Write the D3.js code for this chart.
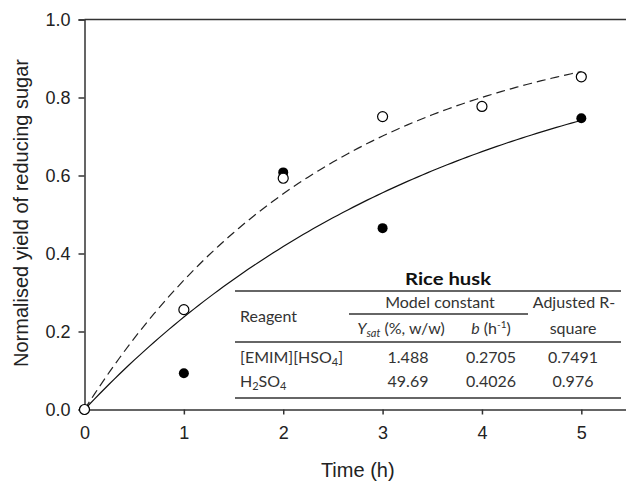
<!DOCTYPE html>
<html>
<head>
<meta charset="utf-8">
<script src="https://cdn.jsdelivr.net/npm/d3@7"></script>
<style>
  body { margin: 0; background: #fff; }
  .axis text { font-family: "Liberation Sans", Arial, sans-serif; font-size: 18px; fill: #222; }
  .axis path, .axis line { stroke: #333; stroke-width: 1.5; }
  .tbl { font-family: Lato, "Open Sans", sans-serif; font-size: 16px; fill: #333; }
</style>
</head>
<body>
<div id="chart-area"></div>
<script>
// data
var times = [0, 1, 2, 3, 4, 5];
var openYield = [0, 0.256, 0.593, 0.751, 0.777, 0.853];     // H2SO4, open circles, dashed fit
var filledTimes = [0, 1, 2, 3, 5];
var filledYield = [0, 0.093, 0.608, 0.465, 0.747];           // [EMIM][HSO4], filled circles, solid fit
var xTicks = [0, 1, 2, 3, 4, 5];
var yTicks = [0, 0.2, 0.4, 0.6, 0.8, 1.0];

// table values
var reagents = [["[EMIM][HSO", "4", "]"], ["H", "2", "SO", "4"]];
var ysat = ["1.488", "49.69"];
var bConst = [0.2705, 0.4026];
var adjR2 = ["0.7491", "0.976"];

var width = 626, height = 485;

var svg = d3.select("#chart-area")
    .append("svg")
    .attr("width", width)
    .attr("height", height);

var x = d3.scaleLinear().domain([0, 5.5]).range([84.5, 631]);
var y = d3.scaleLinear().domain([0, 1]).range([409.5, 19.5]);

// top frame line
svg.append("line")
    .attr("x1", x(0)).attr("x2", width)
    .attr("y1", y(1)).attr("y2", y(1))
    .attr("stroke", "#333").attr("stroke-width", 1.5);

// axes
var xAxis = d3.axisBottom(x).tickValues(xTicks).tickSize(5).tickPadding(12).tickFormat(d3.format("d"));
svg.append("g")
    .attr("class", "axis")
    .attr("transform", "translate(0," + y(0) + ")")
    .call(xAxis);

var yAxis = d3.axisLeft(y).tickValues(yTicks).tickSize(6).tickPadding(8).tickFormat(d3.format(".1f"));
svg.append("g")
    .attr("class", "axis")
    .attr("transform", "translate(" + x(0) + ",0)")
    .call(yAxis);

// axis titles
svg.append("text")
    .attr("x", (x.range()[0] + x.range()[1]) / 2).attr("y", 477)
    .attr("text-anchor", "middle")
    .style("font-family", "'Liberation Sans', Arial, sans-serif")
    .style("font-size", "20px").style("fill", "#222")
    .text("Time (h)");

svg.append("text")
    .attr("transform", "translate(28,213) rotate(-90)")
    .attr("text-anchor", "middle")
    .style("font-family", "'Liberation Sans', Arial, sans-serif")
    .style("font-size", "20px").style("fill", "#222")
    .text("Normalised yield of reducing sugar");

// fitted curves  y = 1 - exp(-b t), b from the table
var tFit = d3.range(0, 5.0001, 0.05);
var line = d3.line()
    .x(function(d) { return x(d.t); })
    .y(function(d) { return y(d.v); });

var fitSolid = tFit.map(function(t) { return { t: t, v: 1 - Math.exp(-bConst[0] * t) }; });
var fitDashed = tFit.map(function(t) { return { t: t, v: 1 - Math.exp(-bConst[1] * t) }; });

svg.append("path")
    .datum(fitSolid)
    .attr("d", line)
    .attr("fill", "none")
    .attr("stroke", "#111")
    .attr("stroke-width", 1.2);

svg.append("path")
    .datum(fitDashed)
    .attr("d", line)
    .attr("fill", "none")
    .attr("stroke", "#222")
    .attr("stroke-width", 1.2)
    .attr("stroke-dasharray", "9,5");

// points
svg.selectAll(".filled")
    .data(filledTimes)
    .enter()
    .append("circle")
    .attr("class", "filled")
    .attr("cx", function(d) { return x(d); })
    .attr("cy", function(d, i) { return y(filledYield[i]); })
    .attr("r", 5)
    .attr("fill", "#000");

svg.selectAll(".open")
    .data(times)
    .enter()
    .append("circle")
    .attr("class", "open")
    .attr("cx", function(d) { return x(d); })
    .attr("cy", function(d, i) { return y(openYield[i]); })
    .attr("r", 5)
    .attr("fill", "#fff")
    .attr("stroke", "#000")
    .attr("stroke-width", 1.2);

// table
var tbl = svg.append("g").attr("class", "tbl");
var tLeft = 235, tRight = 621;
var colX = [240, 408, 491, 573];

function hline(x1, x2, yy) {
    tbl.append("line")
        .attr("x1", x1).attr("x2", x2)
        .attr("y1", yy).attr("y2", yy)
        .attr("stroke", "#333").attr("stroke-width", 1.5);
}

tbl.append("text")
    .attr("x", 448).attr("y", 285)
    .attr("text-anchor", "middle")
    .attr("textLength", 86).attr("lengthAdjust", "spacingAndGlyphs")
    .style("font-weight", "bold").style("font-size", "17px").style("fill", "#111")
    .text("Rice husk");

hline(tLeft, tRight, 291);
tbl.append("text").attr("x", 440).attr("y", 308).attr("text-anchor", "middle").text("Model constant");
tbl.append("text").attr("x", 574).attr("y", 308).attr("text-anchor", "middle").text("Adjusted R-");
hline(349, 528, 314);
tbl.append("text").attr("x", colX[0]).attr("y", 322).text("Reagent");

var ys = tbl.append("text").attr("x", 401).attr("y", 334).attr("text-anchor", "middle");
ys.append("tspan").style("font-style", "italic").text("Y");
ys.append("tspan").style("font-style", "italic").style("font-size", "11px").attr("dy", 3).text("sat");
ys.append("tspan").attr("dy", -3).text(" (%, w/w)");

var bt = tbl.append("text").attr("x", 491).attr("y", 334).attr("text-anchor", "middle");
bt.append("tspan").style("font-style", "italic").text("b");
bt.append("tspan").text(" (h");
bt.append("tspan").style("font-size", "10px").attr("dy", -6).text("-1");
bt.append("tspan").attr("dy", 6).text(")");

tbl.append("text").attr("x", 573).attr("y", 334).attr("text-anchor", "middle").text("square");
hline(tLeft, tRight, 342);

var rowY = [363, 387];
reagents.forEach(function(parts, i) {
    var t = tbl.append("text").attr("x", colX[0]).attr("y", rowY[i]);
    parts.forEach(function(p, j) {
        var isSub = /^\d$/.test(p);
        var ts = t.append("tspan").text(p);
        if (isSub) ts.style("font-size", "11px").attr("dy", 3);
        else if (j > 0) ts.attr("dy", -3);
    });
    tbl.append("text").attr("x", colX[1]).attr("y", rowY[i]).attr("text-anchor", "middle").text(ysat[i]);
    tbl.append("text").attr("x", colX[2]).attr("y", rowY[i]).attr("text-anchor", "middle").text(bConst[i].toFixed(4));
    tbl.append("text").attr("x", colX[3]).attr("y", rowY[i]).attr("text-anchor", "middle").text(adjR2[i]);
});
hline(tLeft, tRight, 398);
</script>
</body>
</html>
